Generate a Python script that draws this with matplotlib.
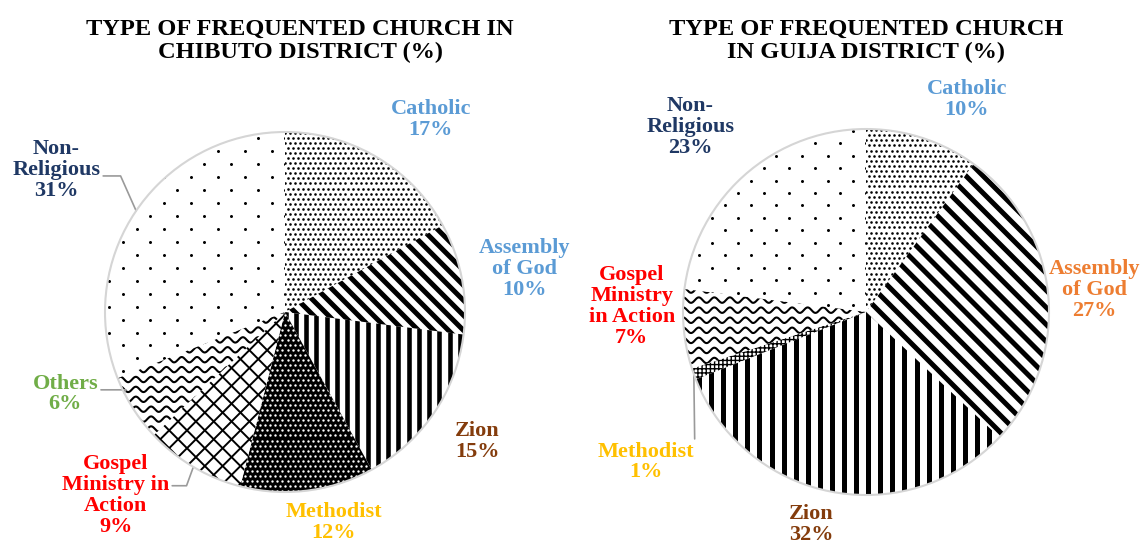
import numpy as np
import matplotlib.pyplot as plt

plt.rcParams['font.family'] = ['Liberation Serif', 'DejaVu Serif']
plt.rcParams['hatch.linewidth'] = 1.0

# data
categories = ["Catholic", "Assembly of God", "Zion", "Methodist",
              "Gospel Ministry in Action", "Others", "Non-Religious"]
chibuto = [17, 10, 15, 12, 9, 6, 31]
guija = [10, 27, 32, 1, 7, 0, 23]

# how each name is broken over lines in the labels
chibuto_names = ["Catholic", "Assembly\nof God", "Zion", "Methodist",
                 "Gospel\nMinistry in\nAction", "Others", "Non-\nReligious"]
guija_names = ["Catholic", "Assembly\nof God", "Zion", "Methodist",
               "Gospel\nMinistry\nin Action", "Others", "Non-\nReligious"]

chibuto_colors = ['#5B9BD5', '#5B9BD5', '#843C0C', '#FFC000', '#FF0000', '#70AD47', '#1F3864']
guija_colors = ['#5B9BD5', '#ED7D31', '#843C0C', '#FFC000', '#FF0000', '#70AD47', '#1F3864']

# fill patterns
# ('dots', xgap, ygap, size_px, dot colour, face) / ('lines', angle, gap, lw)
# ('wave', gap, amp, period, lw) / ('cross', gap, lw) / ('hatch', pattern)
chibuto_fill = [('dots', 0.028, 0.028, 2.6, 'black', 'white'),
                ('lines', -45, 0.059, 3.6),
                ('lines', 90, 0.057, 3.3),
                ('dots', 0.028, 0.028, 2.4, 'white', 'black'),
                ('cross', 0.07, 1.4),
                ('wave', 0.055, 0.015, 0.085, 1.5),
                ('dots', 0.15, 0.072, 3.0, 'black', 'white')]
guija_fill = [('dots', 0.028, 0.028, 2.6, 'black', 'white'),
              ('lines', -45, 0.066, 3.6),
              ('lines', 90, 0.066, 3.6),
              ('hatch', '++++'),
              ('wave', 0.055, 0.015, 0.085, 1.5),
              ('dots', 0.14, 0.068, 3.0, 'black', 'white'),
              ('dots', 0.14, 0.068, 3.0, 'black', 'white')]

# label placement in pie-radius units, leader lines (relpos, connectionstyle, anchor shift deg)
chibuto_pos = [(0.81, 1.07), (1.33, 0.24), (1.07, -0.72), (0.27, -1.17),
               (-0.94, -1.02), (-1.22, -0.455), (-1.27, 0.79)]
chibuto_lead = [None, None, None, None,
                ((1, 0.62), "angle,angleA=0,angleB=70,rad=0", 0),
                ((1, 0.6), "angle,angleA=0,angleB=60,rad=0", -5.7),
                ((1, 0.4), "angle,angleA=0,angleB=-66,rad=0", 0)]
guija_pos = [(0.55, 1.16), (1.25, 0.12), (-0.30, -1.16), (-1.20, -0.82),
             (-1.28, 0.03), None, (-0.96, 1.01)]
guija_lead = [None, None, None, ((1, 1), "arc3", 0), None, None, None]


def stripes(ax, wedge, angle, gap, lw, amp=0.0, period=0.08):
    t = np.linspace(-1.2, 1.2, 900)
    th = np.deg2rad(angle)
    d = np.array([np.cos(th), np.sin(th)])
    n = np.array([-np.sin(th), np.cos(th)])
    for off in np.arange(-1.2, 1.2, gap):
        wob = amp * np.sin(2 * np.pi * t / period)
        x = t * d[0] + (off + wob) * n[0]
        y = t * d[1] + (off + wob) * n[1]
        ln, = ax.plot(x, y, color='black', lw=lw, solid_capstyle='butt', zorder=3)
        ln.set_clip_path(wedge)


def dots(ax, wedge, xgap, ygap, size_px, color):
    xs, ys = [], []
    for i, y in enumerate(np.arange(-1.05, 1.05, ygap)):
        shift = xgap / 2 if i % 2 else 0
        for x in np.arange(-1.05, 1.05, xgap):
            xs.append(x + shift)
            ys.append(y)
    d_pt = size_px * 0.72
    sc = ax.scatter(xs, ys, s=d_pt ** 2, c=color, marker='o', linewidths=0, zorder=3)
    sc.set_clip_path(wedge)


def draw_pie(ax, values, names, colors, fills, pos, leads, R, cx, cy, x0, x1):
    wedges, _ = ax.pie(values, startangle=90, counterclock=False, radius=1,
                       colors=['white'] * len(values), wedgeprops=dict(linewidth=0))
    for w, f in zip(wedges, fills):
        if f[0] == 'dots':
            w.set_facecolor(f[5])
            dots(ax, w, f[1], f[2], f[3], f[4])
        elif f[0] == 'hatch':
            w.set_edgecolor('black')
            w.set_hatch(f[1])
            w.set_linewidth(0)
        elif f[0] == 'lines':
            stripes(ax, w, f[1], f[2], f[3])
        elif f[0] == 'cross':
            stripes(ax, w, 45, f[1], f[2])
            stripes(ax, w, -45, f[1], f[2])
        else:
            stripes(ax, w, 0, f[1], f[4], amp=f[2], period=f[3])
    ax.add_patch(plt.Circle((0, 0), 1, fill=False, ec='#d5d5d5', lw=1.5, zorder=4))

    for w, v, nm, c, p, ld in zip(wedges, values, names, colors, pos, leads):
        if v == 0 or p is None:
            continue
        mid = (w.theta1 + w.theta2) / 2
        kw = dict(ha='center', va='center', color=c, fontsize=16, fontweight='bold',
                  linespacing=1.05)
        if ld is not None:
            mid += ld[2]
            kw['arrowprops'] = dict(arrowstyle='-', color='#9a9a9a', lw=1.2,
                                    relpos=ld[0], connectionstyle=ld[1],
                                    shrinkA=0, shrinkB=0)
        m = np.deg2rad(mid)
        ax.annotate(f"{nm}\n{v}%", xy=(np.cos(m), np.sin(m)), xytext=p, **kw)

    ax.set_aspect('auto')
    ax.set_xlim((x0 - cx) / R, (x1 - cx) / R)
    ax.set_ylim((cy - 547) / R, cy / R)
    ax.axis('off')


fig = plt.figure(figsize=(11.46, 5.47), dpi=100)
ax1 = fig.add_axes([0, 0, 0.5, 1])
ax2 = fig.add_axes([0.5, 0, 0.5, 1])

draw_pie(ax1, chibuto, chibuto_names, chibuto_colors, chibuto_fill, chibuto_pos,
         chibuto_lead, 180, 285, 312, 0, 573)
draw_pie(ax2, guija, guija_names, guija_colors, guija_fill, guija_pos,
         guija_lead, 183, 866, 312, 573, 1146)

fig.text(0.262, 0.925, "TYPE OF FREQUENTED CHURCH IN\nCHIBUTO DISTRICT (%)",
         ha='center', va='center', fontsize=17.6, fontweight='bold', linespacing=1.16)
fig.text(0.756, 0.925, "TYPE OF FREQUENTED CHURCH\nIN GUIJA DISTRICT (%)",
         ha='center', va='center', fontsize=17.6, fontweight='bold', linespacing=1.16)

fig.savefig('out.png', dpi=100)
